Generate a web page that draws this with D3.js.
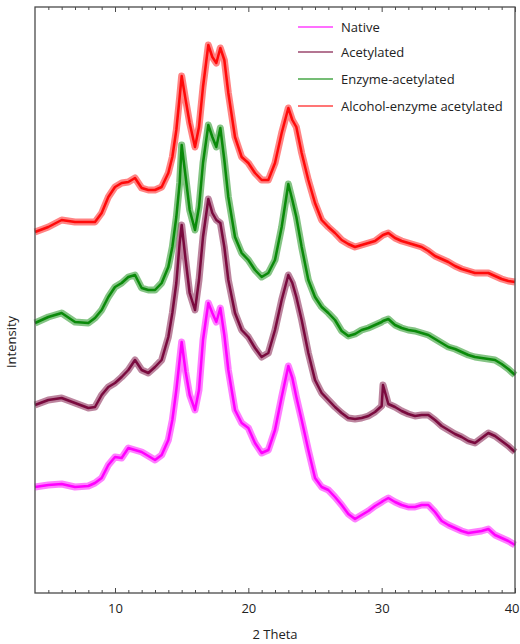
<!DOCTYPE html>
<html>
<head>
<meta charset="utf-8">
<script src="https://cdn.jsdelivr.net/npm/d3@7"></script>
<style>
  body { margin: 0; background: #fff; }
  text { font-family: "Open Sans", "Noto Sans", sans-serif; fill: #222; }
</style>
</head>
<body>
<div id="chart"></div>
<script>
// 2 theta positions (degrees)
const theta = [4, 5, 6, 7, 8, 8.5, 9, 9.5, 10, 10.5, 11, 11.5, 12, 12.5, 13, 13.5, 14,
  14.3, 14.6, 14.85, 15, 15.3, 15.6, 16, 16.3, 16.6, 17, 17.3, 17.6, 17.9, 18.2, 18.5,
  19, 19.5, 20, 20.5, 21, 21.5, 22, 22.5, 23, 23.3, 23.6,
  24, 24.5, 25, 25.5, 26, 26.5, 27, 27.5, 28, 28.5, 29, 29.5, 30, 30.1,
  30.5, 31, 31.5, 32, 32.5, 33, 33.5, 34, 34.5, 35, 35.5, 36, 36.5, 37, 37.5, 38, 38.5, 39, 39.5, 40];

// intensity (a.u., curves already offset as in the figure)
const native = [106, 108, 109, 106, 107, 110, 115, 128, 136, 135, 145, 143, 141, 137, 133, 138, 153,
  173, 203, 233, 251, 221, 198, 183, 203, 253, 290, 280, 271, 285, 258, 223,
  183, 170, 165, 150, 140, 143, 163, 196, 227, 215, 196,
  173, 143, 115, 106, 103, 96, 88, 79, 74, 78, 82, 87, 91, 92,
  95, 91, 88, 86, 86, 88, 88, 81, 72, 68, 65, 62, 60, 61, 62, 64, 58, 55, 52, 48];
const acetylated = [188, 193, 195, 190, 185, 186, 198, 206, 210, 216, 223, 233, 223, 220, 226, 233, 256,
  280, 310, 350, 368, 333, 300, 283, 313, 356, 394, 380, 373, 370, 346, 313,
  280, 263, 256, 245, 236, 240, 263, 293, 318, 310, 296,
  273, 240, 213, 200, 193, 186, 180, 175, 174, 175, 177, 181, 187, 208,
  189, 186, 182, 179, 177, 178, 178, 173, 167, 163, 159, 156, 152, 150, 155, 160, 157, 152, 147, 141];
const enzymeAcetylated = [270, 276, 280, 271, 270, 275, 283, 296, 306, 310, 316, 318, 305, 303, 303, 310, 326,
  346, 376, 410, 448, 416, 383, 363, 386, 430, 468, 456, 446, 465, 433, 396,
  356, 340, 333, 323, 316, 320, 333, 366, 409, 393, 376,
  346, 313, 296, 286, 280, 273, 262, 257, 259, 263, 265, 268, 271, 272,
  274, 268, 265, 263, 262, 260, 258, 254, 250, 246, 244, 241, 238, 236, 235, 234, 233, 229, 224, 218];
const alcoholEnzyme = [361, 366, 373, 371, 371, 371, 380, 396, 406, 410, 411, 415, 405, 403, 403, 406, 420,
  436, 463, 496, 517, 493, 470, 446, 466, 506, 548, 536, 530, 545, 533, 500,
  456, 436, 430, 420, 413, 413, 430, 460, 485, 473, 466,
  440, 413, 390, 373, 366, 360, 353, 349, 346, 348, 350, 352, 357, 358,
  360, 355, 352, 350, 348, 346, 342, 337, 334, 331, 327, 324, 322, 320, 320, 320, 317, 314, 312, 311];

const seriesNames = ['Native', 'Acetylated', 'Enzyme-acetylated', 'Alcohol-enzyme acetylated'];
const seriesValues = [native, acetylated, enzymeAcetylated, alcoholEnzyme];
const colors = ['#ff00ff', '#7a0a3e', '#0a8a0a', '#ff0a0a'];
const majorTicks = [10, 20, 30, 40];

const width = 520, height = 644;
const margin = { top: 7, right: 5, bottom: 51, left: 35 };

const svg = d3.select('#chart').append('svg')
  .attr('width', width)
  .attr('height', height);

const x = d3.scaleLinear().domain([4, 40]).range([margin.left, width - margin.right]);
const y = d3.scaleLinear().domain([0, 586]).range([height - margin.bottom, margin.top]);

const line = d3.line()
  .x((d, i) => x(theta[i]))
  .y(d => y(d));

const curves = svg.append('g');
seriesValues.forEach((vals, k) => {
  // wider faint band stands in for the scan noise
  curves.append('path')
    .datum(vals)
    .attr('d', line)
    .attr('fill', 'none')
    .attr('stroke', colors[k])
    .attr('stroke-width', 7)
    .attr('stroke-opacity', 0.5)
    .attr('stroke-linejoin', 'round');
  curves.append('path')
    .datum(vals)
    .attr('d', line)
    .attr('fill', 'none')
    .attr('stroke', colors[k])
    .attr('stroke-width', 2.5)
    .attr('stroke-linejoin', 'round');
});

// frame
const frameColor = '#4a4a4a';
svg.append('rect')
  .attr('x', margin.left)
  .attr('y', margin.top)
  .attr('width', width - margin.left - margin.right)
  .attr('height', height - margin.top - margin.bottom)
  .attr('fill', 'none')
  .attr('stroke', frameColor)
  .attr('stroke-width', 1.3);

const minorTicks = d3.range(5, 40, 1).filter(t => t % 10 !== 0);

function styleAxis(g) {
  g.select('.domain').remove();
  g.selectAll('line').attr('stroke', frameColor).attr('stroke-width', 1);
}

// bottom, ticks pointing in
svg.append('g')
  .attr('transform', `translate(0,${height - margin.bottom})`)
  .call(d3.axisBottom(x).tickValues(minorTicks).tickSize(-3).tickFormat(''))
  .call(styleAxis);
const bottomMajor = svg.append('g')
  .attr('transform', `translate(0,${height - margin.bottom})`)
  .call(d3.axisBottom(x).tickValues(majorTicks).tickSize(-5).tickPadding(11))
  .call(styleAxis);
bottomMajor.selectAll('text')
  .style('font-size', '13px')
  .style('font-family', '"Open Sans", sans-serif')
  .attr('fill', '#222');
// last label would run past the window edge
bottomMajor.selectAll('text').filter(d => d === 40).attr('text-anchor', 'end').attr('x', 4);

// top, ticks pointing in
svg.append('g')
  .attr('transform', `translate(0,${margin.top})`)
  .call(d3.axisTop(x).tickValues(minorTicks).tickSize(-3).tickFormat(''))
  .call(styleAxis);
svg.append('g')
  .attr('transform', `translate(0,${margin.top})`)
  .call(d3.axisTop(x).tickValues(majorTicks).tickSize(-5).tickFormat(''))
  .call(styleAxis);

// axis titles
svg.append('text')
  .attr('x', (margin.left + width - margin.right) / 2)
  .attr('y', 639)
  .attr('text-anchor', 'middle')
  .style('font-size', '13px')
  .text('2 Theta');

svg.append('text')
  .attr('transform', 'translate(16,342) rotate(-90)')
  .attr('text-anchor', 'middle')
  .style('font-size', '13px')
  .text('Intensity');

// legend
const legend = svg.append('g').attr('transform', 'translate(298,27)');
seriesNames.forEach((name, k) => {
  const row = legend.append('g').attr('transform', `translate(0,${[0, 25, 52, 79][k]})`);
  row.append('line')
    .attr('x1', 0).attr('x2', 35)
    .attr('y1', 0).attr('y2', 0)
    .attr('stroke', colors[k])
    .attr('stroke-opacity', 0.75)
    .attr('stroke-width', 1.5);
  row.append('text')
    .attr('x', 43)
    .attr('y', 0)
    .attr('dy', '0.35em')
    .style('font-size', '13px')
    .text(name);
});
</script>
</body>
</html>
